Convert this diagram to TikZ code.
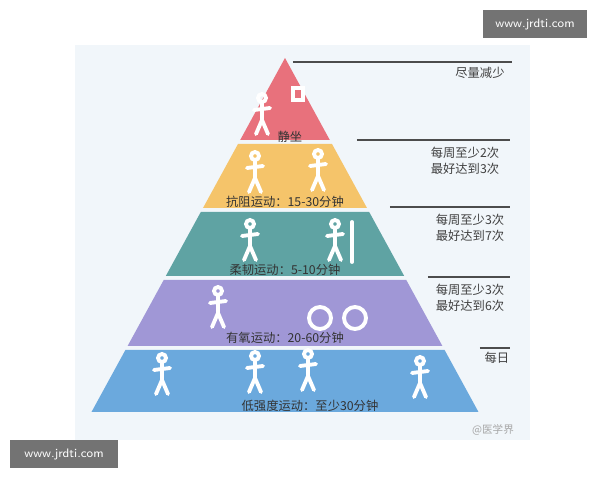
\documentclass[tikz,border=0pt]{standalone}
\usepackage{fontspec}
\newfontfamily\cjk{Noto Sans CJK SC}
\usetikzlibrary{calc,positioning}
\definecolor{sitRed}{HTML}{E8717C}
\definecolor{resYellow}{HTML}{F5C46A}
\definecolor{flexTeal}{HTML}{5FA3A3}
\definecolor{aeroPurple}{HTML}{A097D6}
\definecolor{lowBlue}{HTML}{6BA9DD}
\definecolor{bgBlue}{HTML}{F1F6FA}
\tikzset{
  band/.style={draw=none},
  bandtext/.style={font=\cjk\fontsize{7}{8}\selectfont, text=black!80},
  note/.style={font=\cjk\fontsize{7}{9}\selectfont, text=black!75, align=left},
  rule/.style={draw=black!70, line width=0.6pt},
  icon/.style={draw=white, line width=2.2pt, line cap=round},
  wmark/.style={fill=black!55, text=white, font=\sffamily\fontsize{7}{8}\selectfont, minimum height=0.56cm}
}
\tikzset{person/.pic={
  \draw[icon] (0,-14) circle (4);
  \draw[icon] (0,-9) -- (0,8) (-8,-2) -- (8,-4) (0,8) -- (-6,22) (0,8) -- (6,22);
}}
\begin{document}
\begin{tikzpicture}[x=0.02cm,y=-0.02cm]
  \useasboundingbox (0,0) rectangle (600,480);
  \fill[bgBlue] (75,45) rectangle (530,440);
  % pyramid bands
  \fill[band, sitRed] (285,58) -- (329.8,140) -- (240.2,140) -- cycle;
  \fill[band, resYellow] (238,144) -- (332,144) -- (367,208) -- (203,208) -- cycle;
  \fill[band, flexTeal] (200.8,212) -- (369.2,212) -- (404.2,276) -- (165.8,276) -- cycle;
  \fill[band, aeroPurple] (163.7,280) -- (406.3,280) -- (442.4,346) -- (127.6,346) -- cycle;
  \fill[band, lowBlue] (125.4,350) -- (444.6,350) -- (478.5,412) -- (91.5,412) -- cycle;
  % icons
  \pic at (262,112) {person};
  \draw[icon] (293,88) rectangle (303,100);
  \pic at (255,170) {person};
  \pic at (318,168) {person};
  \pic at (250,238) {person};
  \pic at (335,238) {person};
  \draw[icon] (352,222) -- (352,262);
  \pic at (218,305) {person};
  \draw[icon] (320,318) circle (11) (355,318) circle (11);
  \pic at (162,372) {person};
  \pic at (255,370) {person};
  \pic at (308,368) {person};
  \pic at (420,375) {person};
  % band labels
  \node[bandtext] (sit) at (290,137) {静坐};
  \node[bandtext] (res) at (285,202) {抗阻运动：15-30分钟};
  \node[bandtext] (flex) at (285,270) {柔韧运动：5-10分钟};
  \node[bandtext] (aero) at (285,338) {有氧运动：20-60分钟};
  \node[bandtext] (low) at (310,406) {低强度运动：至少30分钟};
  % right notes
  \coordinate (r1) at (293,62);
  \coordinate (r2) at (357,140);
  \coordinate (r3) at (390,207);
  \coordinate (r4) at (428,277);
  \coordinate (r5) at (480,348);
  \draw[rule] (r1) -- ++(219,0);
  \draw[rule] (r2) -- ++(153,0);
  \draw[rule] (r3) -- ++(120,0);
  \draw[rule] (r4) -- ++(82,0);
  \draw[rule] (r5) -- ++(30,0);
  \node[note] (n1) at (480,73) {尽量减少};
  \node[note] (n2) at (465,161) {每周至少2次\\最好达到3次};
  \node[note] (n3) at (470,228) {每周至少3次\\最好达到7次};
  \node[note] (n4) at (470,298) {每周至少3次\\最好达到6次};
  \node[note] (n5) at (497,358) {每日};
  \node[font=\cjk\fontsize{6}{7}\selectfont, text=black!35] (src) at (493,430) {@医学界};
  % watermarks
  \node[wmark, minimum width=2.1cm] (w1) at (535,24) {www.jrdti.com};
  \node[wmark, minimum width=2.16cm] (w2) at (64,454) {www.jrdti.com};
\end{tikzpicture}
\end{document}
